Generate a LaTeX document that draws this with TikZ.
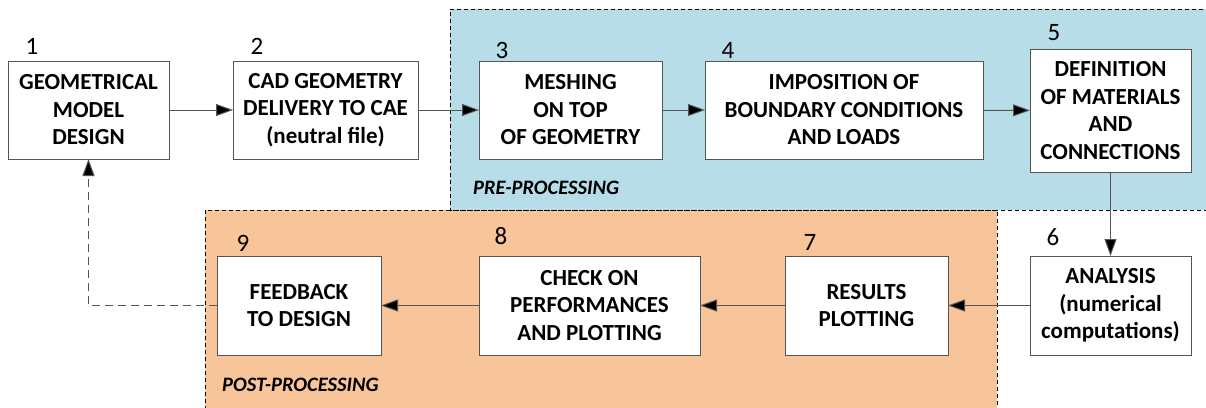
\documentclass[tikz,border=0pt]{standalone}
\usepackage{fontspec}
\setmainfont{Carlito}
\usetikzlibrary{arrows.meta}
\definecolor{preblue}{RGB}{183,221,232}
\definecolor{postorange}{RGB}{248,196,154}
\definecolor{linegrey}{RGB}{85,85,85}
\tikzset{
  stepbox/.style={draw=linegrey, line width=0.9pt, fill=white, inner sep=0pt, outer sep=0pt,
    align=center, font=\bfseries\fontsize{23}{27.5}\selectfont},
  numlabel/.style={inner sep=0pt, font=\fontsize{25}{25}\selectfont},
  flow/.style={draw=linegrey, line width=1pt, -{Triangle[length=17pt,width=12pt,fill=black]}},
  region/.style={draw=black, line width=0.7pt, dash pattern=on 4pt off 3pt},
  regionlabel/.style={inner sep=0pt, anchor=west, font=\bfseries\itshape\fontsize{20.5}{20.5}\selectfont}
}
\begin{document}
\begin{tikzpicture}[x=1pt,y=-1pt]
\useasboundingbox (0,0) rectangle (1206,407);
% regions
\begin{scope}
\clip (0,0) rectangle (1206,407);
\fill[postorange] (205,210) rectangle (997,410);
\draw[region] (205,410) -- (205,210) -- (997,210) -- (997,410);
\fill[preblue] (450,9) rectangle (1210,210);
\draw[region] (1210,9) -- (450,9) -- (450,210) -- (1210,210);
\end{scope}
\node[regionlabel] (prelab) at (473,188) {PRE-PROCESSING};
\node[regionlabel] (postlab) at (222,385) {POST-PROCESSING};
% boxes
\node[stepbox, minimum width=161pt, minimum height=98pt] (b1) at (88.5,110) {GEOMETRICAL\\MODEL\\DESIGN};
\node[stepbox, minimum width=185pt, minimum height=98pt] (b2) at (325.5,110) {CAD GEOMETRY\\DELIVERY TO CAE\\(neutral file)};
\node[stepbox, minimum width=183pt, minimum height=98pt] (b3) at (570.5,110) {MESHING\\ON TOP\\OF GEOMETRY};
\node[stepbox, minimum width=278pt, minimum height=98pt] (b4) at (844,110) {IMPOSITION OF\\BOUNDARY CONDITIONS\\AND LOADS};
\node[stepbox, minimum width=161pt, minimum height=123pt] (b5) at (1110.5,110.5) {DEFINITION\\OF MATERIALS\\AND\\CONNECTIONS};
\node[stepbox, minimum width=161pt, minimum height=99pt] (b6) at (1110.5,305.5) {ANALYSIS\\(numerical\\computations)};
\node[stepbox, minimum width=163pt, minimum height=99pt] (b7) at (866.5,305.5) {RESULTS\\PLOTTING};
\node[stepbox, minimum width=221pt, minimum height=99pt] (b8) at (589.5,305.5) {CHECK ON\\PERFORMANCES\\AND PLOTTING};
\node[stepbox, minimum width=164pt, minimum height=99pt] (b9) at (299,305.5) {FEEDBACK\\TO DESIGN};
% numbers
\node[numlabel] (n1) at (32,46) {1};
\node[numlabel] (n2) at (257,46) {2};
\node[numlabel] (n3) at (502,50) {3};
\node[numlabel] (n4) at (728,50) {4};
\node[numlabel] (n5) at (1054,33) {5};
\node[numlabel] (n6) at (1053,237) {6};
\node[numlabel] (n7) at (810,242) {7};
\node[numlabel] (n8) at (501,236) {8};
\node[numlabel] (n9) at (243,243) {9};
% connectors
\draw[flow] (b1) -- (b2);
\draw[flow] (b2) -- (b3);
\draw[flow] (b3) -- (b4);
\draw[flow] (b4) -- (b5);
\draw[flow] (b5) -- (b6);
\draw[flow] (b6) -- (b7);
\draw[flow] (b7) -- (b8);
\draw[flow] (b8) -- (b9);
\draw[flow, dash pattern=on 8pt off 5pt] (b9.west) -| (b1.south);
\end{tikzpicture}
\end{document}
